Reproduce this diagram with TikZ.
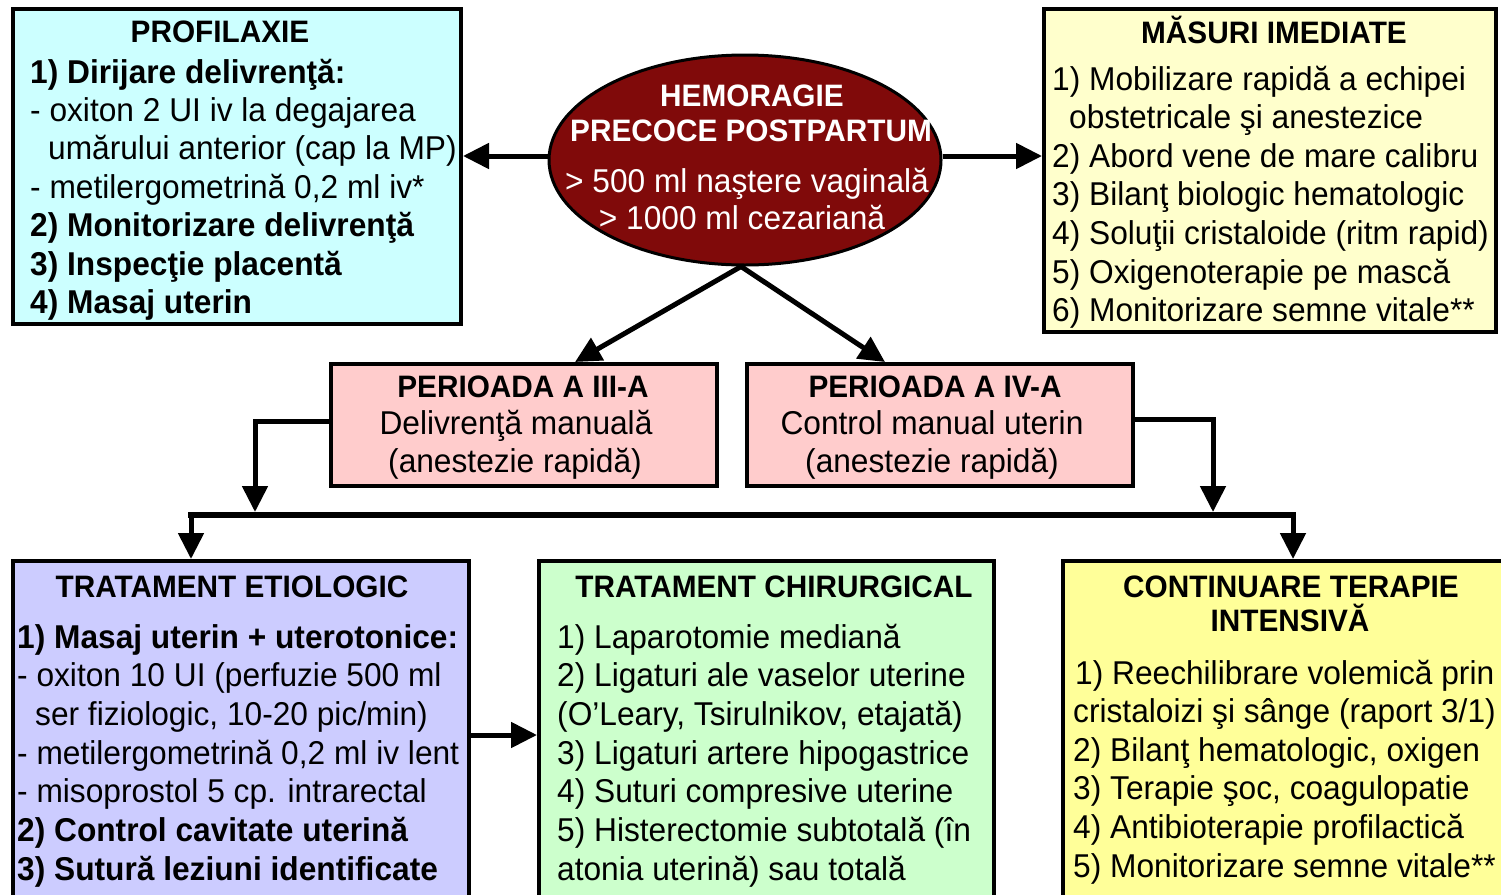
\documentclass[tikz,border=0pt]{standalone}
\usepackage{fontspec}
\setmainfont[FakeStretch=0.96]{Liberation Sans}
\usetikzlibrary{arrows.meta,shapes.geometric}
\definecolor{cyanbox}{HTML}{CCFFFF}
\definecolor{yelbox}{HTML}{FFFFCC}
\definecolor{pinkbox}{HTML}{FFCCCC}
\definecolor{lavbox}{HTML}{CCCCFF}
\definecolor{greenbox}{HTML}{CCFFCC}
\definecolor{yel2box}{HTML}{FFFF99}
\definecolor{bloodred}{RGB}{128,10,10}
\newcommand\blk[5]{%
  \foreach \t [count=\i] in {#5} \node[txt] (#1-\i) at (#2, {#3+#4*(\i-1)}) {\t};}
\begin{document}
\begin{tikzpicture}[x=1pt,y=-1pt,
  box/.style={draw=black, line width=4pt, rectangle, inner sep=0pt, anchor=north west},
  txt/.style={inner sep=0pt, font=\fontsize{33}{38}\selectfont, anchor=base west},
  ctxt/.style={inner sep=0pt, font=\fontsize{33}{38}\selectfont, anchor=base},
  hdr/.style={inner sep=0pt, font=\fontsize{31}{34}\selectfont\bfseries, anchor=base},
  conn/.style={line width=5pt, -{Triangle[width=25pt,length=26pt]}},
]
\clip (0,0) rectangle (1501,894);
\fill[white] (0,0) rectangle (1501,894);

% boxes
\node[box, fill=cyanbox, minimum width=448pt, minimum height=315pt] (prof) at (11,7) {};
\node[box, fill=yelbox, minimum width=452pt, minimum height=323pt] (mas) at (1042,7) {};
\node[ellipse, draw=black, line width=3pt, fill=bloodred, minimum width=392pt, minimum height=210pt, inner sep=0pt] (ell) at (745,160) {};
\node[box, fill=pinkbox, minimum width=386pt, minimum height=122pt] (p3) at (329,362) {};
\node[box, fill=pinkbox, minimum width=386pt, minimum height=122pt] (p4) at (745,362) {};
\node[box, fill=lavbox, minimum width=456pt, minimum height=360pt] (ete) at (11,559) {};
\node[box, fill=greenbox, minimum width=455pt, minimum height=360pt] (chir) at (537,559) {};
\node[box, fill=yel2box, minimum width=460pt, minimum height=360pt] (cont) at (1061,559) {};

% connectors
\draw[conn] ([yshift=4pt]ell.west) -- ([yshift=4pt]ell.west -| prof.east);
\draw[conn] ([yshift=4pt]ell.east) -- ([yshift=4pt]ell.east -| mas.west);
\draw[conn] ([xshift=-4pt]ell.south) -- ([xshift=51pt]p3.north);
\draw[conn] ([xshift=-4pt]ell.south) -- ([xshift=-55pt]p4.north);
\coordinate (j3) at (255,512);
\coordinate (j4) at (1213,512);
\coordinate (bl) at (191,515);
\coordinate (br) at (1293,515);
\draw[conn] ([yshift=4pt]p3.west) -| (j3);
\draw[conn] ([yshift=6pt]p4.east) -| (j4);
\draw[line width=6pt] ([xshift=-3pt]bl) -- ([xshift=3pt]br);
\draw[conn] (bl) -- (bl |- ete.north);
\draw[conn] (br) -- (br |- cont.north);
\draw[conn] ([yshift=6pt]ete.east) -- ([yshift=6pt]chir.west);

% PROFILAXIE
\node[hdr] (profh) at (220,42) {PROFILAXIE};
\blk{pr}{30}{83}{38.4}{{\bfseries 1) Dirijare delivrenţă:},{- oxiton 2 UI iv la degajarea},{\hspace*{18pt}umărului anterior (cap la MP)},{- metilergometrină 0,2 ml iv*},{\bfseries 2) Monitorizare delivrenţă},{\bfseries 3) Inspecţie placentă},{\bfseries 4) Masaj uterin}}

% MASURI IMEDIATE
\node[hdr] (mash) at (1274,43) {MĂSURI IMEDIATE};
\blk{ma}{1052}{90}{38.6}{{1) Mobilizare rapidă a echipei},{\hspace*{17pt}obstetricale şi anestezice},{2) Abord vene de mare calibru},{3) Bilanţ biologic hematologic},{4) Soluţii cristaloide (ritm rapid)},{5) Oxigenoterapie pe mască},{6) Monitorizare semne vitale**}}

% ellipse text
\node[hdr, text=white] (el1) at (752,106) {HEMORAGIE};
\node[hdr, text=white] (el2) at (751,141) {PRECOCE POSTPARTUM};
\node[ctxt, text=white] (el3) at (747,192) {> 500 ml naştere vaginală};
\node[ctxt, text=white] (el4) at (742,229) {> 1000 ml cezariană};

% PERIOADA boxes
\node[hdr] (p3a) at (523,397) {PERIOADA A III-A};
\node[ctxt] (p3b) at (516,434) {Delivrenţă manuală};
\node[ctxt] (p3c) at (515,472) {(anestezie rapidă)};
\node[hdr] (p4a) at (935,397) {PERIOADA A IV-A};
\node[ctxt] (p4b) at (932,434) {Control manual uterin};
\node[ctxt] (p4c) at (932,472) {(anestezie rapidă)};

% TRATAMENT ETIOLOGIC
\node[hdr] (eteh) at (232,597) {TRATAMENT ETIOLOGIC};
\blk{et}{17}{648}{38.7}{{\bfseries 1) Masaj uterin + uterotonice:},{- oxiton 10 UI (perfuzie 500 ml},{\hspace*{18pt}ser fiziologic, 10-20 pic/min)},{- metilergometrină 0,2 ml iv lent},{- misoprostol 5 cp. intrarectal},{\bfseries 2) Control cavitate uterină},{\bfseries 3) Sutură leziuni identificate}}

% TRATAMENT CHIRURGICAL
\node[hdr] (chirh) at (774,597) {TRATAMENT CHIRURGICAL};
\blk{ch}{557}{648}{38.7}{{1) Laparotomie mediană},{2) Ligaturi ale vaselor uterine},{{(O’Leary, Tsirulnikov, etajată)}},{3) Ligaturi artere hipogastrice},{4) Suturi compresive uterine},{5) Histerectomie subtotală (în},{atonia uterină) sau totală}}

% CONTINUARE TERAPIE INTENSIVA
\node[hdr] (conth1) at (1291,597) {CONTINUARE TERAPIE};
\node[hdr] (conth2) at (1290,631) {INTENSIVĂ};
\blk{co}{1073}{684}{38.6}{{\hspace*{2pt}1) Reechilibrare volemică prin},{cristaloizi şi sânge (raport 3/1)},{2) Bilanţ hematologic, oxigen},{3) Terapie şoc, coagulopatie},{4) Antibioterapie profilactică},{5) Monitorizare semne vitale**}}
\end{tikzpicture}
\end{document}
